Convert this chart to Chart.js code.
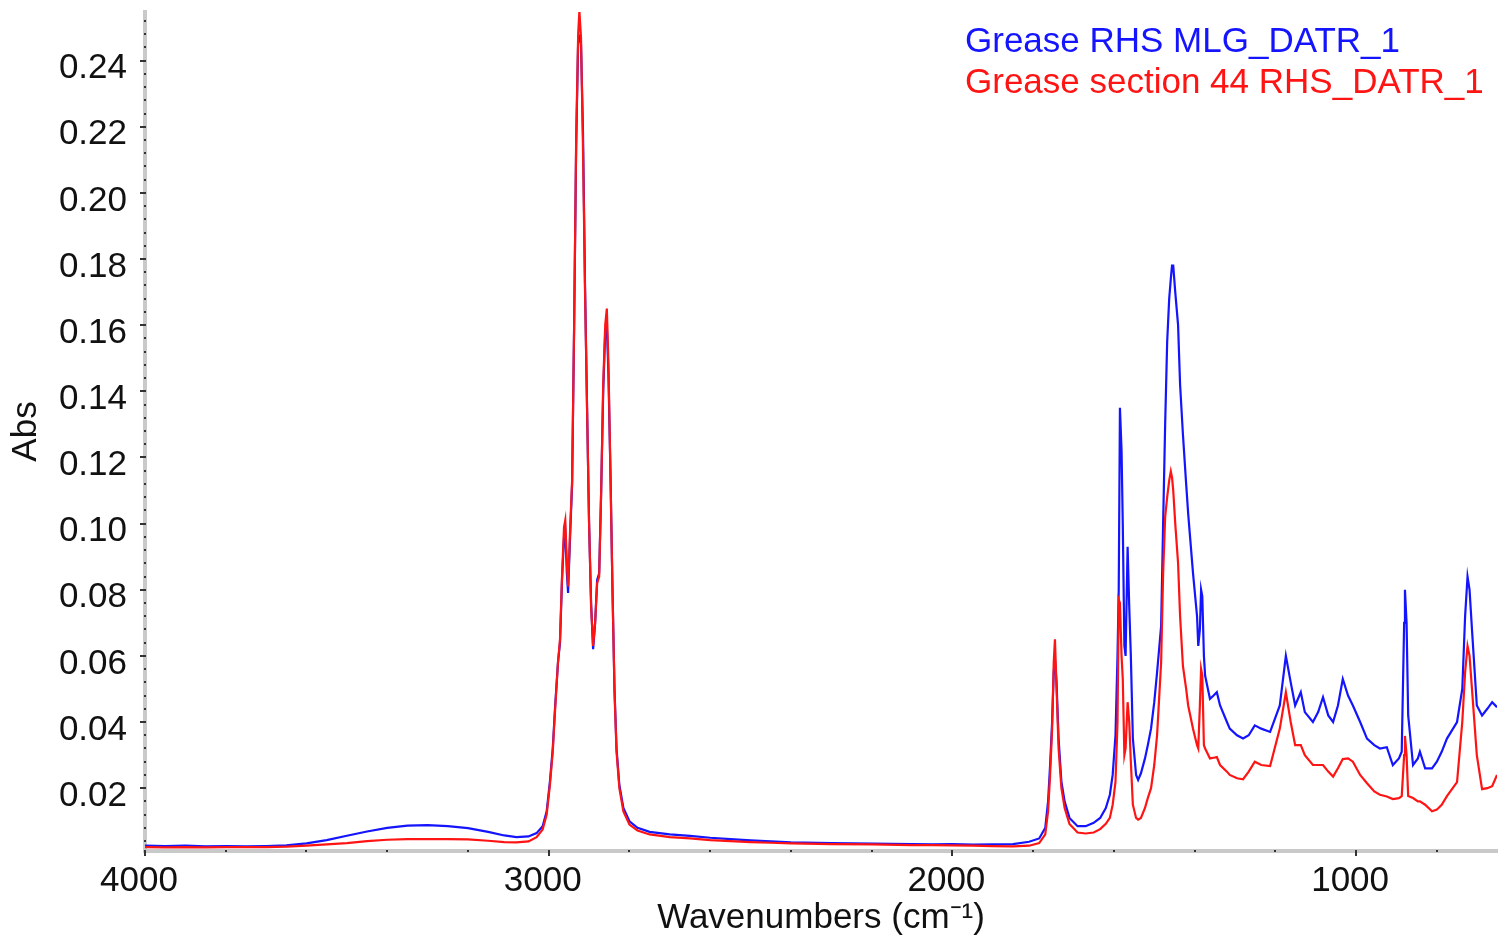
<!DOCTYPE html>
<html>
<head>
<meta charset="utf-8">
<script src="https://cdn.jsdelivr.net/npm/chart.js@4.4.0/dist/chart.umd.min.js"></script>
<style>
html,body{margin:0;padding:0;background:#fff;}
#wrap{width:1499px;height:939px;position:relative;}
</style>
</head>
<body>
<div id="wrap"><canvas id="c" width="1499" height="939"></canvas></div>
<script>
const seriesNames = ["Grease RHS MLG_DATR_1", "Grease section 44 RHS_DATR_1"];
const xTickValues = [4000, 3000, 2000, 1000];
const yTickValues = [0.02,0.04,0.06,0.08,0.10,0.12,0.14,0.16,0.18,0.20,0.22,0.24];

const wavenumbers = [4000,3950,3900,3850,3800,3750,3700,3650,3600,3550,3500,3450,3400,3350,3300,3250,3200,3150,3110,3080,3050,3030,3015,3005,
2997,2990,2984,2977,2972,2967,2962,2959,2955,2952,2947,2942,2937,2932,2927,2924,2920,2915,2910,2905,2900,2895,2890,2885,2880,2875,2870,2865,2860,2856,2852,2847,2842,2837,2832,2825,2815,2800,2780,
2750,2700,2650,2600,2550,2500,2450,2400,2300,2200,2100,2050,2000,1950,1900,1850,1810,1785,1770,1763,1758,1753,1749,1746,1742,1737,1730,1722,1710,1690,1670,1650,1634,1620,1610,1603,1596,
1591,1588,1585,1581,1578,1574,1571,1566,1562,1558,1553,1545,1540,1533,1523,1516,1508,1500,1493,1488,1483,1478,1473,1468,1463,1459,1456,1453,1448,1441,1436,1429,1421,1416,1404,1394,1391,1387,1384,1381,1377,1374,
1362,1353,1345,1337,1320,1313,1295,1280,1266,1251,1235,1213,1189,1174,1162,1151,1137,1127,1107,1094,1082,1069,1057,1045,1033,1020,1008,990,973,955,941,924,909,894,887,881,879,875,871,859,847,842,829,812,800,788,775,750,737,730,724,719,713,701,688,675,663,651];

const blueAbs = [.0026,.0025,.0026,.0024,.0025,.0024,.0025,.0027,.0033,.0043,.0056,.0069,.0080,.0087,.0088,.0085,.0079,.0068,.0057,.0052,.0054,.0064,.0085,.0130,
.022,.032,.045,.058,.064,.083,.096,.098,.085,.079,.096,.112,.160,.214,.246,.247,.245,.218,.172,.135,.100,.076,.062,.070,.083,.085,.110,.140,.158,.160,.145,.115,.080,.050,.032,.021,.014,.0100,.0080,
.0068,.0060,.0056,.0050,.0046,.0042,.0039,.0036,.0034,.0032,.0031,.0030,.0031,.0029,.0030,.0031,.0038,.0048,.0080,.016,.027,.040,.055,.059,.052,.035,.022,.016,.011,.0085,.0085,.0095,.011,.014,.018,.024,.036,
.060,.080,.135,.122,.100,.063,.060,.093,.075,.060,.035,.024,.0225,.0245,.029,.033,.038,.046,.055,.062,.069,.100,.130,.155,.168,.174,.178,.178,.170,.160,.142,.127,.112,.103,.085,.072,.063,.068,.080,.078,.060,.054,
.047,.048,.049,.045,.040,.038,.036,.035,.036,.039,.038,.037,.045,.060,.052,.045,.049,.043,.040,.043,.0475,.042,.040,.045,.053,.048,.045,.040,.035,.033,.032,.0324,.027,.029,.031,.070,.080,.070,.042,.027,.029,.031,.026,.026,.028,.031,.035,.040,.050,.072,.084,.080,.068,.045,.042,.044,.046,.0445];

const redAbs = [.0022,.0021,.0022,.0021,.0022,.0022,.0022,.0023,.0026,.0030,.0034,.0040,.0044,.0046,.0046,.0046,.0045,.0041,.0037,.0036,.0039,.0052,.0075,.0120,
.021,.031,.044,.058,.065,.084,.099,.101,.088,.081,.098,.113,.160,.216,.248,.255,.247,.213,.170,.135,.100,.075,.063,.070,.082,.084,.110,.142,.160,.165,.148,.115,.080,.049,.031,.020,.013,.0090,.0072,
.0060,.0052,.0048,.0043,.0040,.0037,.0035,.0033,.0031,.0030,.0028,.0028,.0027,.0026,.0025,.0024,.0026,.0034,.0060,.013,.024,.038,.058,.065,.050,.032,.020,.014,.0092,.0066,.0063,.0066,.0076,.0092,.011,.015,.022,
.040,.077,.076,.060,.053,.030,.032,.046,.040,.028,.015,.011,.0105,.011,.014,.017,.020,.027,.036,.047,.058,.085,.102,.108,.113,.1158,.114,.110,.100,.088,.072,.057,.050,.045,.038,.033,.032,.045,.056,.054,.033,.032,
.029,.0292,.0294,.027,.025,.024,.023,.0227,.025,.028,.027,.0267,.038,.049,.040,.033,.033,.030,.027,.027,.027,.025,.0235,.026,.0288,.029,.028,.024,.0215,.019,.018,.0175,.0167,.017,.0176,.030,.0358,.030,.0176,.017,.016,.016,.015,.013,.0135,.015,.0176,.0218,.040,.055,.063,.060,.050,.030,.0197,.020,.0206,.024];

const seriesColors = ["#1414ff", "#ff1414"];
const FONT = "'Liberation Sans', Arial, Helvetica, sans-serif";

const axisDecor = {
  id: 'axisDecor',
  afterDraw(chart) {
    const ctx = chart.ctx;
    const xs = chart.scales.x, ys = chart.scales.y;
    const a = chart.chartArea;
    ctx.save();
    ctx.fillStyle = '#333';
    for (let k = 1; k <= 63; k++) {
      const v = k * 0.004;
      if (v < ys.min || v > ys.max) continue;
      const py = Math.round(ys.getPixelForValue(v));
      if (k % 5 === 0) ctx.fillRect(a.left - 5, py - 1, 6, 2);
      else ctx.fillRect(a.left - 1, py - 1, 2, 2);
    }
    for (let w = 800; w <= 4000; w += 200) {
      if (w < xs.min || w > xs.max) continue;
      const px = Math.round(xs.getPixelForValue(w));
      if (w % 1000 === 0) ctx.fillRect(px - 1, a.bottom - 1, 2, 6);
      else ctx.fillRect(px - 1, a.bottom - 1, 2, 2);
    }
    ctx.font = "35px " + FONT;
    ctx.textAlign = 'left';
    ctx.textBaseline = 'alphabetic';
    chart.data.datasets.forEach((ds, i) => {
      ctx.fillStyle = ds.borderColor;
      ctx.fillText(ds.label, 965, 52 + i * 41);
    });
    ctx.restore();
  }
};

const ctx = document.getElementById('c').getContext('2d');
new Chart(ctx, {
  type: 'line',
  data: {
    datasets: [
      { label: seriesNames[0], data: wavenumbers.map((w, i) => ({x: w, y: blueAbs[i]})),
        borderColor: seriesColors[0], borderWidth: 2.2, pointRadius: 0, tension: 0, fill: false, order: 1 },
      { label: seriesNames[1], data: wavenumbers.map((w, i) => ({x: w, y: redAbs[i]})),
        borderColor: seriesColors[1], borderWidth: 2.2, pointRadius: 0, tension: 0, fill: false, order: 0 }
    ]
  },
  options: {
    responsive: false,
    animation: false,
    layout: { padding: { top: 12, right: 2, left: 0, bottom: 0 } },
    plugins: { legend: { display: false }, tooltip: { enabled: false } },
    scales: {
      x: {
        type: 'linear', reverse: true, min: 651, max: 4000,
        grid: { display: false, drawTicks: false },
        border: { display: true, color: '#c9c9c9', width: 4 },
        afterBuildTicks(scale) { scale.ticks = xTickValues.map(v => ({value: v})); },
        afterFit(scale) { scale.height = 88; scale.paddingLeft = 0; scale.paddingRight = 0; },
        ticks: { color: '#111', font: { family: FONT, size: 35 }, padding: 9, maxRotation: 0,
                 labelOffset: -6, callback: v => String(v) },
        title: { display: true, text: 'Wavenumbers (cm\u207B\u00B9)', color: '#111',
                 font: { family: FONT, size: 35 }, padding: { top: 0, bottom: 0 } }
      },
      y: {
        type: 'linear', min: 0.001, max: 0.2547,
        grid: { display: false, drawTicks: false },
        border: { display: true, color: '#c9c9c9', width: 4 },
        afterBuildTicks(scale) { scale.ticks = yTickValues.map(v => ({value: v})); },
        afterFit(scale) { scale.width = 145; scale.paddingTop = 0; scale.paddingBottom = 0; },
        ticks: { color: '#111', font: { family: FONT, size: 35 }, padding: 18, labelOffset: 8,
                 callback: v => Number(v).toFixed(2) },
        title: { display: true, text: 'Abs', color: '#111',
                 font: { family: FONT, size: 35 }, padding: { top: 5, bottom: 0 } }
      }
    }
  },
  plugins: [axisDecor]
});
</script>
</body>
</html>
